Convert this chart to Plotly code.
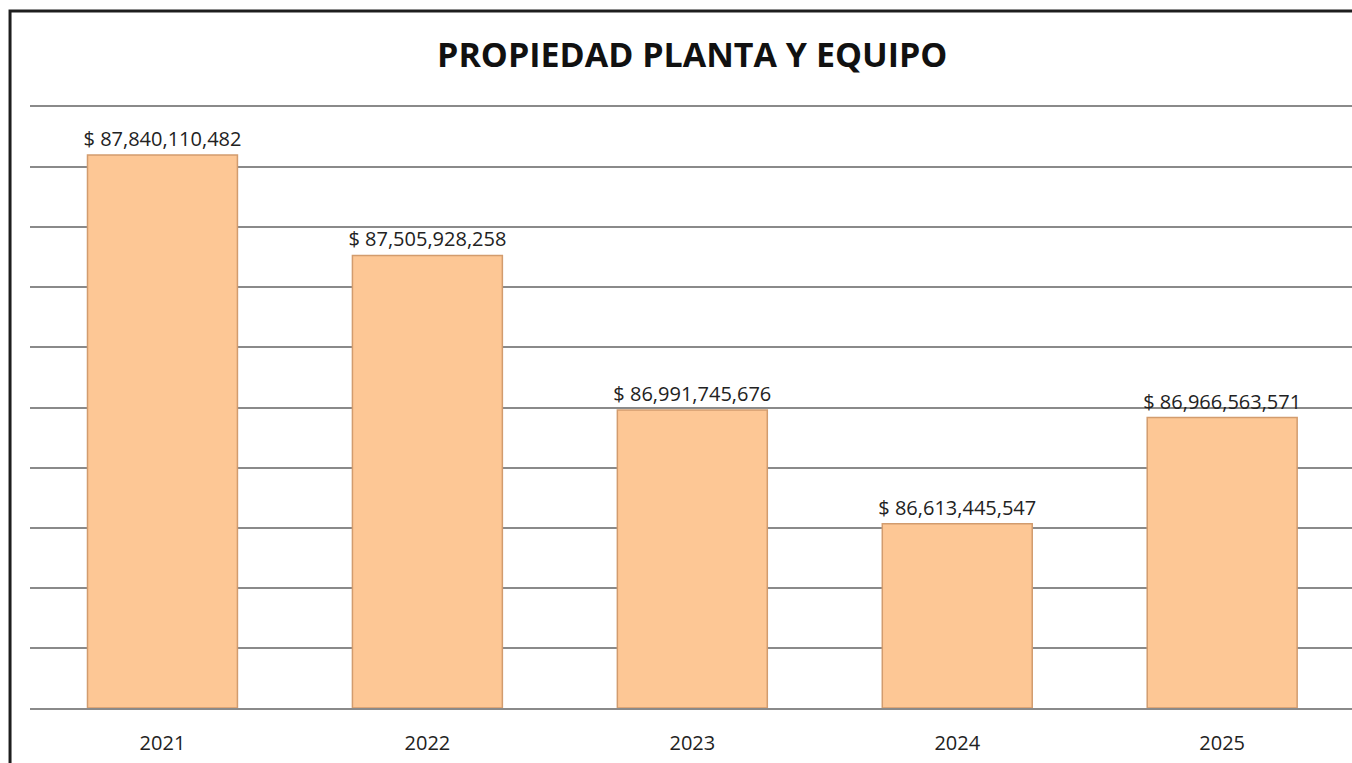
import plotly.graph_objects as go

years = ["2021", "2022", "2023", "2024", "2025"]
valores = [87840110482, 87505928258, 86991745676, 86613445547, 86966563571]
base_eje = 86e9

fig = go.Figure()

# barras desde la base del eje (86 mil millones)
fig.add_trace(go.Bar(
    x=years,
    y=[v - base_eje for v in valores],
    base=base_eje,
    marker=dict(color="#FDC795", line=dict(color="#D29C6E", width=1.5)),
    text=[f"$ {v:,.0f}" for v in valores],
    textposition="outside",
    constraintext="none",
    textfont=dict(family="Open Sans", size=20, color="#222222"),
    cliponaxis=False,
))

# marco negro del grafico
fig.add_shape(
    type="rect",
    xref="paper", yref="paper",
    x0=-0.0151, x1=1.05, y0=-0.3, y1=1.1597,
    line=dict(color="#1e1e1e", width=3),
    layer="above",
)

fig.update_layout(
    title=dict(
        text="<b>PROPIEDAD PLANTA Y EQUIPO</b>",
        x=0.512, xanchor="center", y=0.928, yanchor="middle",
        font=dict(family="Open Sans", size=34, color="#111111"),
    ),
    width=1352,
    height=763,
    margin=dict(l=30, r=0, t=107, b=55),
    paper_bgcolor="white",
    plot_bgcolor="white",
    bargap=0.434,
    showlegend=False,
)
fig.update_xaxes(
    range=[-0.5, 4.49],
    showgrid=False,
    showline=True,
    mirror=True,
    linecolor="#8a8a8a",
    linewidth=2,
    ticks="",
    ticklabelstandoff=16,
    tickfont=dict(family="Open Sans", size=20, color="#222222"),
)
fig.update_yaxes(
    range=[86e9, 88e9],
    dtick=2e8,
    tick0=86e9,
    showgrid=True,
    gridcolor="#8a8a8a",
    gridwidth=2,
    showticklabels=False,
    zeroline=False,
    ticks="",
)

fig.write_html(
    "out.html",
    config={"displayModeBar": False},
    post_script="document.body.style.margin='0';",
)
